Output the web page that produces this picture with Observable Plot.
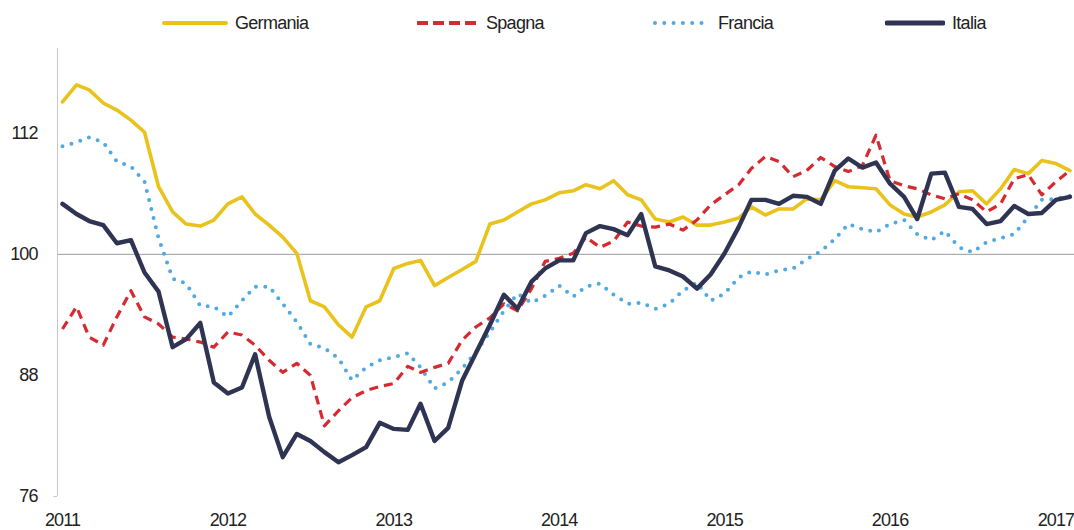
<!DOCTYPE html>
<html>
<head>
<meta charset="utf-8">
<script src="https://cdn.jsdelivr.net/npm/d3@7"></script>
<script src="https://cdn.jsdelivr.net/npm/@observablehq/plot@0.6"></script>
<style>
  html, body { margin: 0; padding: 0; background: #fff; }
  #wrap { position: relative; width: 1074px; height: 530px; font-family: "Liberation Sans Narrow", "Liberation Sans", Arial, sans-serif; color: #222; }
  #legend { position: relative; height: 45px; width: 1074px; }
  .lg-item { position: absolute; top: 10px; height: 26px; display: flex; align-items: center; font-size: 18px; letter-spacing: -0.7px; }
  .lg-item svg { margin-right: 7px; }
  #chart { position: absolute; top: 45px; left: 0; }
  #chart svg text { letter-spacing: -0.9px; }
</style>
</head>
<body>
<div id="wrap">
  <div id="legend"></div>
  <div id="chart"></div>
</div>
<script>
// ---- Data (monthly, Jan 2011 – Feb 2017) ----
const countries = ["Germania", "Spagna", "Francia", "Italia"];
const startYear = 2011;
const yearTicks = [2011, 2012, 2013, 2014, 2015, 2016, 2017];
const yTicks = [76, 88, 100, 112];

const germania = [115.1,116.8,116.3,115.0,114.3,113.3,112.1,106.7,104.2,103.0,
  102.8,103.4,105.0,105.7,104.0,102.9,101.7,100.1,95.4,94.8,
  93.0,91.8,94.8,95.4,98.6,99.1,99.4,96.9,97.7,98.5,
  99.3,103.0,103.4,104.2,105.0,105.4,106.1,106.3,106.9,106.5,
  107.3,105.9,105.4,103.5,103.2,103.7,102.9,102.9,103.2,103.6,
  104.7,103.9,104.5,104.5,105.5,105.4,107.3,106.7,106.6,106.5,
  104.9,104.0,103.7,104.2,104.9,106.2,106.3,105.0,106.5,108.4,
  108.0,109.3,109.0,108.3];
const spagna = [92.6,94.8,91.8,91.0,93.8,96.4,93.8,93.1,91.8,91.6,
  91.3,90.8,92.3,92.0,91.0,89.5,88.3,89.2,88.0,83.0,
  84.5,85.8,86.5,86.9,87.2,88.9,88.3,88.8,89.2,91.5,
  92.8,93.7,95.1,94.4,96.6,99.3,99.6,100.1,101.7,100.7,
  101.3,103.2,102.8,102.7,103.0,102.4,103.4,104.9,105.9,106.9,
  108.5,109.7,109.2,107.7,108.3,109.6,108.7,108.2,108.8,111.8,
  107.3,106.8,106.5,105.9,105.5,106.0,105.4,104.2,105.0,107.5,
  107.9,105.9,107.2,108.3];
const francia = [110.7,111.1,111.6,111.1,109.2,108.7,107.2,101.6,97.6,97.1,
  94.9,94.8,93.8,95.4,96.8,96.8,95.1,93.3,91.1,90.7,
  89.7,87.5,88.8,89.5,89.8,90.2,88.8,86.7,87.3,88.7,
  90.3,92.3,94.4,96.1,95.2,95.9,96.9,95.8,96.8,97.1,
  96.0,95.1,95.2,94.6,95.1,96.4,97.2,95.4,96.1,97.7,
  98.3,98.0,98.4,98.6,99.5,100.3,101.5,103.0,102.5,102.2,
  103.0,103.4,102.0,101.4,102.3,100.7,100.2,101.2,101.6,102.0,
  103.7,105.4,105.5,105.8];
const italia = [105.0,104.0,103.3,102.9,101.1,101.4,98.2,96.3,90.8,91.6,
  93.2,87.3,86.2,86.8,90.1,83.9,79.9,82.2,81.5,80.4,
  79.4,80.1,80.9,83.3,82.7,82.6,85.2,81.5,82.8,87.5,
  90.2,93.0,96.0,94.6,97.3,98.6,99.4,99.4,102.1,102.8,
  102.5,101.9,104.0,98.8,98.4,97.8,96.6,98.0,100.1,102.7,
  105.4,105.4,105.0,105.8,105.7,105.0,108.3,109.5,108.6,109.1,
  107.0,105.7,103.5,108.0,108.1,104.7,104.5,103.0,103.3,104.8,
  104.0,104.1,105.4,105.7];

// ---- Styles ----
const styles = {
  Germania: { stroke: "#E9C21C", strokeWidth: 3.6, dash: null, cap: "round" },
  Spagna:   { stroke: "#D62A30", strokeWidth: 3.2, dash: "9,6", cap: "butt" },
  Francia:  { stroke: "#4FA9E2", strokeWidth: 4, dash: "0,9.3", cap: "round" },
  Italia:   { stroke: "#2F3452", strokeWidth: 4.4, dash: null, cap: "round" }
};

const series = { Germania: germania, Spagna: spagna, Francia: francia, Italia: italia };
const monthDate = i => new Date(Date.UTC(startYear, i, 1));
const rows = [];
for (const c of countries) series[c].forEach((v, i) => rows.push({ country: c, date: monthDate(i), value: v }));

const x0 = new Date(Date.UTC(2010, 11, 21));
const x0tick = new Date(Date.UTC(2010, 11, 13));
const x1 = new Date(Date.UTC(2017, 1, 11));
const yMax = 120.4;

const drawOrder = ["Germania", "Francia", "Spagna", "Italia"];
const lineMarks = drawOrder.map(c => Plot.line(rows.filter(d => d.country === c), {
  x: "date", y: "value",
  stroke: styles[c].stroke, strokeWidth: styles[c].strokeWidth,
  strokeDasharray: styles[c].dash, strokeLinecap: styles[c].cap, strokeLinejoin: "round"
}));

const chart = Plot.plot({
  width: 1074, height: 485,
  marginLeft: 57, marginRight: 0, marginTop: 3, marginBottom: 34,
  style: { fontFamily: '"Liberation Sans Narrow", "Liberation Sans", Arial, sans-serif', fontSize: "18px", color: "#222", background: "transparent" },
  x: { type: "utc", domain: [x0, x1] },
  y: { domain: [76, yMax] },
  marks: [
    Plot.ruleY([100], { stroke: "#9c9c9c", strokeWidth: 1 }),
    Plot.ruleX([x0], { y1: 76, y2: yMax, stroke: "#c6c6c6", strokeWidth: 1 }),
    Plot.ruleY([76], { x1: x0tick, x2: x0, stroke: "#c6c6c6", strokeWidth: 1 }),
    Plot.axisY({ ticks: yTicks, tickSize: 0, tickPadding: 20, label: null, tickFormat: d => String(d) }),
    Plot.axisX({ ticks: yearTicks.map(y => new Date(Date.UTC(y, 0, 1))), tickFormat: d3.utcFormat("%Y"), tickSize: 0, tickPadding: 17, label: null }),
    ...lineMarks
  ]
});
document.getElementById("chart").appendChild(chart);

// ---- Legend ----
const legendPos = {
  Germania: { left: 162, sw: 66 },
  Spagna:   { left: 417, sw: 62 },
  Francia:  { left: 653, sw: 58 },
  Italia:   { left: 885, sw: 60 }
};
const lg = document.getElementById("legend");
for (const c of countries) {
  const s = styles[c], p = legendPos[c];
  const item = document.createElement("div");
  item.className = "lg-item";
  item.style.left = p.left + "px";
  const dash = s.dash ? `stroke-dasharray="${c === "Spagna" ? "11,5" : s.dash}"` : "";
  const x1s = s.cap === "round" ? 2 : 0, x2s = s.cap === "round" ? p.sw - 2 : p.sw;
  item.innerHTML = `<svg width="${p.sw}" height="10"><line x1="${x1s}" y1="5" x2="${x2s}" y2="5" stroke="${s.stroke}" stroke-width="${c === "Italia" ? 5 : 4}" stroke-linecap="${s.cap}" ${dash}/></svg><span>${c}</span>`;
  lg.appendChild(item);
}
</script>
</body>
</html>
